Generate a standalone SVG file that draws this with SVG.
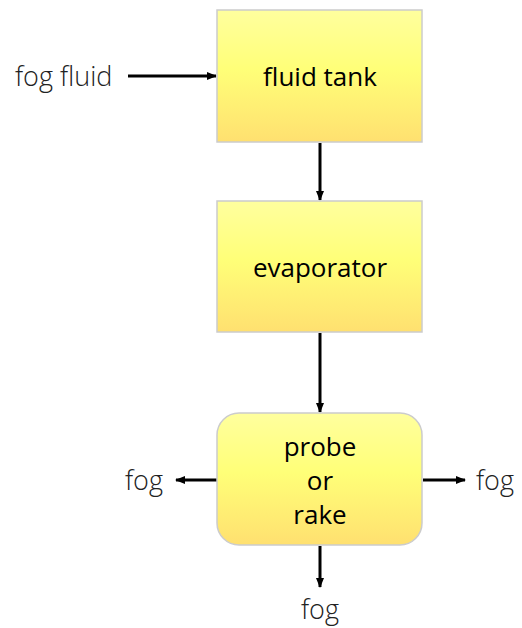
<svg xmlns="http://www.w3.org/2000/svg" width="522" height="628" viewBox="0 0 522 628">
<defs>
<linearGradient id="g" x1="0" y1="0" x2="0" y2="1">
<stop offset="0" stop-color="#FFFF9E"/>
<stop offset="0.45" stop-color="#FFFF78"/>
<stop offset="1" stop-color="#FFE070"/>
</linearGradient>
<marker id="ah" markerWidth="10" markerHeight="8" refX="9" refY="4" orient="auto" markerUnits="userSpaceOnUse">
<path d="M0,0 L10,4 L0,8 Z" fill="#000"/>
</marker>
<style>
.box{fill:url(#g);stroke:#CCCCCC;stroke-width:1.5}
.nt{font-family:"Open Sans","Liberation Sans",sans-serif;font-size:26px;fill:#000;text-anchor:middle}
.lb{font-family:"Open Sans","Liberation Sans",sans-serif;font-weight:300;font-size:27px;fill:#222}
.c{stroke:#000;stroke-width:3;fill:none;marker-end:url(#ah)}
</style>
</defs>
<g id="connectors">
<line class="c" x1="128" y1="76" x2="216" y2="76"/>
<line class="c" x1="320" y1="143" x2="320" y2="200"/>
<line class="c" x1="320" y1="333" x2="320" y2="412"/>
<line class="c" x1="217" y1="480" x2="176" y2="480"/>
<line class="c" x1="423" y1="480" x2="465" y2="480"/>
<line class="c" x1="320" y1="546" x2="320" y2="587"/>
</g>
<g id="fluid-tank">
<rect class="box" x="217" y="10" width="205" height="132"/>
<text class="nt" x="320" y="86">fluid tank</text>
</g>
<g id="evaporator">
<rect class="box" x="217" y="201" width="205" height="131"/>
<text class="nt" x="320" y="277">evaporator</text>
</g>
<g id="probe">
<rect class="box" x="217" y="413" width="205" height="132" rx="22" ry="22"/>
<text class="nt" x="320" y="456">probe</text>
<text class="nt" x="320" y="490">or</text>
<text class="nt" x="320" y="524">rake</text>
</g>
<g id="labels">
<text class="lb" x="15" y="86">fog fluid</text>
<text class="lb" x="125" y="490">fog</text>
<text class="lb" x="476" y="490">fog</text>
<text class="lb" x="320" y="619" text-anchor="middle">fog</text>
</g>
</svg>
